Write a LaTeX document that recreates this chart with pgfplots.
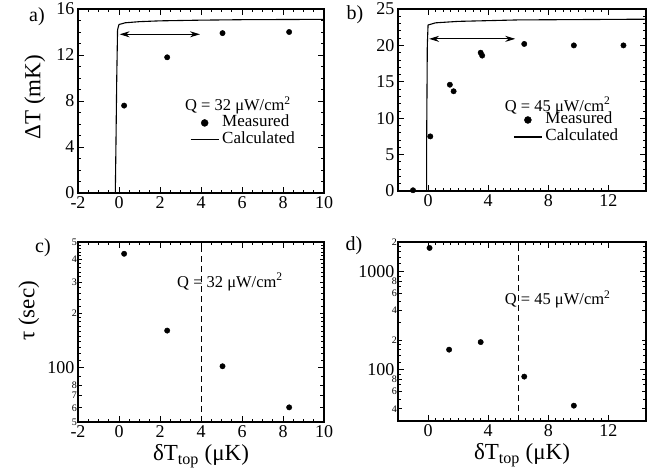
\documentclass[border=0pt]{standalone}
\usepackage{fontspec}
\setmainfont{Liberation Serif}
\usepackage{pgfplots}
\pgfplotsset{compat=1.18}
\usetikzlibrary{arrows.meta}

\pgfplotsset{
  myaxis/.style={
    scale only axis,
    axis line style={line width=1.2pt},
    every tick/.style={line width=0.8pt, black},
    major tick length=6pt,
    minor tick length=3pt,
    tick align=inside,
    /pgf/number format/assume math mode=true,
    tick label style={font=\fontsize{18}{18}\selectfont},
    label style={font=\fontsize{23}{23}\selectfont},
    legend cell align=left,
    legend image code/.code={\draw[mark repeat=2,mark phase=2,##1] plot coordinates {(0pt,0pt) (14pt,0pt) (28pt,0pt)};},
  },
  dots/.style={only marks, mark=*, mark size=2.7pt, black},
  calc/.style={black, line width=1.1pt, mark=none},
  arr/.style={black, line width=0.9pt, {Stealth[length=10pt,width=6pt]}-{Stealth[length=10pt,width=6pt]}},
}

\begin{document}
\begin{tikzpicture}
\path[use as bounding box] (0pt,0pt) rectangle (664pt,472pt);

% ---------- a) ----------
\begin{axis}[myaxis, at={(78pt,279pt)}, anchor=south west, width=246pt, height=184pt,
  xmin=-2, xmax=10, ymin=0, ymax=16,
  xtick={-2,0,2,4,6,8,10}, ytick={0,4,8,12,16},
  minor x tick num=3, minor y tick num=3,
  ylabel={ΔT (mK)}, ylabel style={at={(axis description cs:-0.175,0.52)}, anchor=center},
  legend style={at={(axis cs:3.46,6.85)}, anchor=north west, draw=none, fill=none, inner sep=0pt,
    font=\fontsize{17}{17}\selectfont, row sep=0pt, column sep=2pt,
    nodes={text height=11pt, text depth=4pt, inner sep=1pt}},
]
\addplot[dots, legend image post style={mark size=3.5pt}] coordinates {(0.25,7.6) (2.35,11.8) (5.05,13.9) (8.3,14.0)};
\addlegendentry{Measured}
\addplot[calc] coordinates {(-0.18,0) (-0.15,4) (-0.11,10) (-0.07,14.2) (0,14.65) (0.3,14.8) (1,14.9) (2,14.97) (4,15.03) (6,15.07) (10,15.1)};
\addlegendentry{Calculated}
\addplot[arr, forget plot] coordinates {(0.03,13.8) (3.95,13.8)};
\node[anchor=west, font=\fontsize{16.5}{16.5}\selectfont, inner sep=0pt] at (axis cs:3.22,7.6) {Q = 32 μW/cm\textsuperscript{2}};
\end{axis}

% ---------- b) ----------
\begin{axis}[myaxis, at={(398pt,281pt)}, anchor=south west, width=248pt, height=182pt,
  xmin=-2, xmax=14.5, ymin=0, ymax=25,
  xtick={0,4,8,12}, ytick={0,5,10,15,20,25},
  minor x tick num=7, minor y tick num=4,
  legend style={at={(axis cs:5.66,10.95)}, anchor=north west, draw=none, fill=none, inner sep=0pt,
    font=\fontsize{17}{17}\selectfont, row sep=0pt, column sep=2pt,
    nodes={text height=11pt, text depth=4pt, inner sep=1pt}},
]
\addplot[dots, legend image post style={mark size=3.5pt}] coordinates {(-1,0.1) (0.15,7.5) (1.45,14.6) (1.7,13.7) (3.5,19.0) (3.6,18.6) (6.4,20.2) (9.7,20.0) (13,20.0)};
\addlegendentry{Measured}
\addplot[calc] coordinates {(-0.1,0) (-0.09,8) (-0.05,20) (0,22.8) (0.5,23.1) (2,23.3) (6,23.5) (14.5,23.6)};
\addlegendentry{Calculated}
\addplot[arr, forget plot] coordinates {(0.07,20.9) (5.8,20.9)};
\node[anchor=west, font=\fontsize{16.5}{16.5}\selectfont, inner sep=0pt] at (axis cs:5.1,11.7) {Q = 45 μW/cm\textsuperscript{2}};
\end{axis}

% ---------- c) ----------
\begin{axis}[myaxis, at={(78pt,50pt)}, anchor=south west, width=246pt, height=180pt,
  xmin=-2, xmax=10, ymode=log, ymin=50, ymax=500,
  xtick={-2,0,2,4,6,8,10}, minor x tick num=3,
  ytick={100}, yticklabels={100},
  extra y ticks={50,60,70,80,200,300,400,500},
  extra y tick labels={5,6,7,8,2,3,4,5},
  extra y tick style={major tick length=4pt, tick label style={font=\fontsize{10}{10}\selectfont, inner sep=1pt}},
  minor ytick={90,110,120,130,140,150,160,170,180,190,220,240,260,280,320,340,360,380,420,440,460,480},
  ylabel={τ (sec)}, ylabel style={at={(axis description cs:-0.2,0.617)}, anchor=center},
  xlabel={δT\textsubscript{top} (μK)},
]
\addplot[dots] coordinates {(0.25,430) (2.35,161) (5.05,102) (8.3,60.3)};
\addplot[black, line width=0.9pt, dash pattern=on 6pt off 4pt] coordinates {(4,50) (4,500)};
\node[anchor=west, font=\fontsize{16.5}{16.5}\selectfont, inner sep=0pt] at (axis cs:2.83,300) {Q = 32 μW/cm\textsuperscript{2}};
\end{axis}

% ---------- d) ----------
\begin{axis}[myaxis, at={(398pt,51pt)}, anchor=south west, width=248pt, height=179pt,
  xmin=-2, xmax=14.5, ymode=log, ymin=30, ymax=2000,
  xtick={0,4,8,12}, minor x tick num=7,
  ytick={100,1000}, yticklabels={100,1000},
  extra y ticks={40,60,80,200,400,600,800,2000},
  extra y tick labels={4,6,8,2,4,6,8,2},
  extra y tick style={major tick length=4pt, tick label style={font=\fontsize{10}{10}\selectfont, inner sep=1pt}},
  minor ytick={30,50,70,90,120,140,160,180,300,500,700,900,1200,1400,1600,1800},
  xlabel={δT\textsubscript{top} (μK)},
]
\addplot[dots] coordinates {(0.1,1740) (1.4,160) (3.5,191) (6.4,85) (9.7,43)};
\addplot[black, line width=0.9pt, dash pattern=on 6pt off 4pt] coordinates {(6,30) (6,2000)};
\node[anchor=west, font=\fontsize{16.5}{16.5}\selectfont, inner sep=0pt] at (axis cs:5.1,520) {Q = 45 μW/cm\textsuperscript{2}};
\end{axis}

% panel letters
\node[font=\fontsize{20}{20}\selectfont] at (37pt,455pt) {a)};
\node[font=\fontsize{20}{20}\selectfont] at (355pt,457pt) {b)};
\node[font=\fontsize{20}{20}\selectfont] at (43pt,224pt) {c)};
\node[font=\fontsize{20}{20}\selectfont] at (354pt,226pt) {d)};
\end{tikzpicture}
\end{document}
